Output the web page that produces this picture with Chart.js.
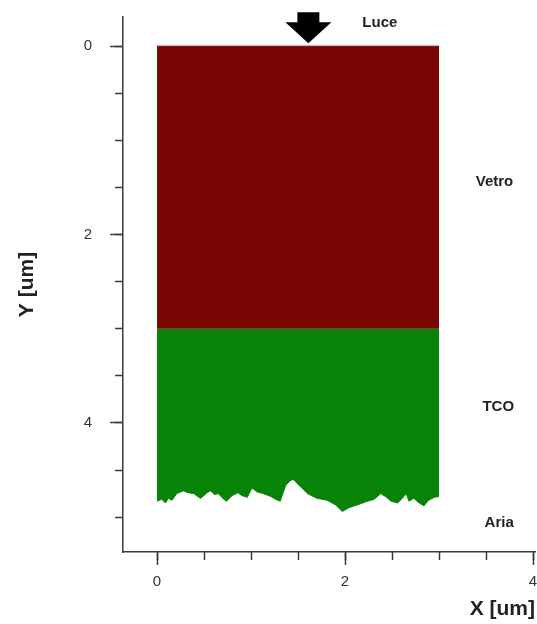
<!DOCTYPE html>
<html>
<head>
<meta charset="utf-8">
<script src="https://cdn.jsdelivr.net/npm/chart.js@4.4.1/dist/chart.umd.min.js"></script>
<style>
  html, body { margin: 0; padding: 0; background: #fff; }
</style>
</head>
<body>
<canvas id="layers" width="537" height="624"></canvas>
<script>
// Sezione della cella: vetro (rosso) sopra il TCO rugoso (verde), aria sotto

// vetro: bordo superiore a y = 0, si riempie fino all'interfaccia
const glassX = [0, 3];
const glassY = [0, 0];
const interfaceY = 3;

// profilo rugoso del TCO verso l'aria (um)
const tcoX = [0.00, 0.05, 0.09, 0.12, 0.16, 0.21, 0.28, 0.33, 0.39, 0.46, 0.49, 0.53, 0.57, 0.61,
  0.65, 0.71, 0.74, 0.80, 0.86, 0.90, 0.96, 1.01, 1.06, 1.13, 1.21, 1.26, 1.31, 1.37, 1.42, 1.45,
  1.51, 1.60, 1.70, 1.81, 1.90, 1.97, 2.04, 2.13, 2.24, 2.31, 2.38, 2.43, 2.49, 2.56, 2.61, 2.65,
  2.68, 2.73, 2.79, 2.84, 2.89, 2.95, 3.00];
const tcoY = [4.83, 4.81, 4.85, 4.80, 4.82, 4.75, 4.72, 4.74, 4.75, 4.80, 4.78, 4.74, 4.72, 4.76,
  4.75, 4.81, 4.83, 4.77, 4.74, 4.77, 4.79, 4.69, 4.73, 4.75, 4.78, 4.81, 4.83, 4.66, 4.61, 4.60,
  4.66, 4.75, 4.80, 4.82, 4.87, 4.94, 4.90, 4.87, 4.83, 4.81, 4.75, 4.78, 4.83, 4.85, 4.80, 4.75,
  4.83, 4.80, 4.85, 4.88, 4.82, 4.79, 4.78];

const majorStep = 2;
const minorStep = 0.5;
const tickLabels = ['0', '2', '4'];

// etichette degli strati (coordinate in um)
const layerLabels = [
  { text: 'Luce',  x: 2.37, y: -0.25 },
  { text: 'Vetro', x: 3.59, y: 1.44 },
  { text: 'TCO',   x: 3.63, y: 3.83 },
  { text: 'Aria',  x: 3.64, y: 5.06 }
];
const arrowX = 1.61;
const arrowTipY = -0.03;

const FONT = "'Liberation Sans', Arial, sans-serif";

function fixBox(size) {
  return scale => {
    if (scale.isHorizontal()) scale.height = size; else scale.width = size;
    scale.paddingLeft = 0; scale.paddingRight = 0;
    scale.paddingTop = 0; scale.paddingBottom = 0;
  };
}

function labelFor(v) {
  const s = String(v);
  return tickLabels.includes(s) ? s : '';
}

const layerPlugin = {
  id: 'layerLabels',
  afterDatasetsDraw(chart) {
    const ctx = chart.ctx;
    const xs = chart.scales.x, ys = chart.scales.y;
    const cx = xs.getPixelForValue(arrowX);
    const tip = ys.getPixelForValue(arrowTipY);
    ctx.save();
    // freccia della luce
    ctx.fillStyle = '#000';
    ctx.beginPath();
    ctx.moveTo(cx - 11, tip - 31);
    ctx.lineTo(cx + 11, tip - 31);
    ctx.lineTo(cx + 11, tip - 21);
    ctx.lineTo(cx + 23, tip - 21);
    ctx.lineTo(cx, tip);
    ctx.lineTo(cx - 23, tip - 21);
    ctx.lineTo(cx - 11, tip - 21);
    ctx.closePath();
    ctx.fill();

    ctx.fillStyle = '#222';
    ctx.font = 'bold 15px ' + FONT;
    ctx.textAlign = 'center';
    ctx.textBaseline = 'middle';
    layerLabels.forEach(l => {
      ctx.fillText(l.text, xs.getPixelForValue(l.x), ys.getPixelForValue(l.y));
    });
    ctx.restore();
  }
};

new Chart(document.getElementById('layers'), {
  type: 'scatter',
  data: {
    datasets: [
      {
        label: 'Vetro',
        data: glassX.map((x, i) => ({ x, y: glassY[i] })),
        showLine: true,
        fill: { value: interfaceY },
        backgroundColor: '#7a0505',
        borderColor: '#7a0505',
        borderWidth: 1,
        pointRadius: 0
      },
      {
        label: 'TCO',
        data: tcoX.map((x, i) => ({ x, y: tcoY[i] })),
        showLine: true,
        fill: { value: interfaceY },
        backgroundColor: '#078407',
        borderColor: '#078407',
        borderWidth: 1,
        pointRadius: 0,
        tension: 0
      }
    ]
  },
  options: {
    responsive: false,
    animation: false,
    layout: { padding: { top: 17, right: 2, left: 0, bottom: 0 } },
    plugins: { legend: { display: false }, tooltip: { enabled: false } },
    scales: {
      x: {
        type: 'linear', position: 'bottom', weight: 1,
        min: -0.362, max: 4.021,
        afterFit: fixBox(72),
        grid: { drawOnChartArea: false, tickLength: 13, tickColor: '#3a3a3a', tickWidth: 1.5 },
        border: { display: true, color: '#3a3a3a', width: 1.5 },
        ticks: { stepSize: majorStep, includeBounds: false, autoSkip: false, maxRotation: 0,
                 padding: 8, color: '#333', font: { size: 15, family: FONT }, callback: labelFor },
        title: { display: true, text: 'X [um]', align: 'end', color: '#222',
                 font: { size: 21, weight: 'bold', family: FONT }, padding: { top: 0, bottom: 2 } }
      },
      x2: {
        type: 'linear', position: 'bottom', weight: 0,
        min: -0.362, max: 4.021,
        afterFit: fixBox(0),
        grid: { drawOnChartArea: false, tickLength: 8, tickColor: '#3a3a3a', tickWidth: 1.5 },
        border: { display: false },
        ticks: { stepSize: minorStep, includeBounds: false, autoSkip: false, display: false }
      },
      y: {
        type: 'linear', position: 'left', weight: 1, reverse: true,
        min: -0.31, max: 5.37,
        afterFit: fixBox(123),
        grid: { drawOnChartArea: false, tickLength: 13, tickColor: '#3a3a3a', tickWidth: 1.5 },
        border: { display: true, color: '#3a3a3a', width: 1.5 },
        ticks: { stepSize: majorStep, includeBounds: false, autoSkip: false,
                 padding: 18, color: '#333', font: { size: 15, family: FONT }, callback: labelFor },
        title: { display: true, text: 'Y [um]', color: '#222',
                 font: { size: 21, weight: 'bold', family: FONT }, padding: { top: 15, bottom: 0 } }
      },
      y2: {
        type: 'linear', position: 'left', weight: 0, reverse: true,
        min: -0.31, max: 5.37,
        afterFit: fixBox(0),
        grid: { drawOnChartArea: false, tickLength: 8, tickColor: '#3a3a3a', tickWidth: 1.5 },
        border: { display: false },
        ticks: { stepSize: minorStep, includeBounds: false, autoSkip: false, display: false }
      }
    }
  },
  plugins: [layerPlugin]
});
</script>
</body>
</html>
